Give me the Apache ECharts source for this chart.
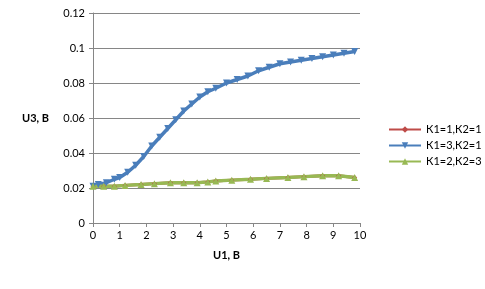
<!DOCTYPE html>
<html><head><meta charset="utf-8">
<script src="https://cdn.jsdelivr.net/npm/echarts@6/dist/echarts.min.js"></script>
<style>html,body{margin:0;padding:0;background:#fff}#c{width:485px;height:289px}</style>
</head><body><div id="c"></div>
<script>
const seriesNames = ['К1=1,К2=1', 'К1=3,К2=1', 'К1=2,К2=3'];
const xTicks = [0,1,2,3,4,5,6,7,8,9,10];
const yTicks = [0,0.02,0.04,0.06,0.08,0.1,0.12];
const u1Blue = [0,0.2,0.5,0.8,1.0,1.3,1.6,1.9,2.2,2.5,2.8,3.1,3.4,3.7,4.0,4.3,4.6,5.0,5.4,5.8,6.2,6.6,7.0,7.4,7.8,8.2,8.6,9.0,9.4,9.8];
const u3Blue = [0.021,0.022,0.023,0.025,0.026,0.029,0.033,0.038,0.044,0.049,0.054,0.059,0.064,0.068,0.072,0.075,0.077,0.080,0.082,0.084,0.087,0.089,0.091,0.092,0.093,0.094,0.095,0.096,0.097,0.098];
const u1Green = [0,0.4,0.8,1.2,1.8,2.3,2.9,3.4,3.9,4.3,4.6,5.2,5.9,6.5,7.3,7.9,8.6,9.2,9.8];
const u3Green = [0.021,0.021,0.021,0.0215,0.022,0.0225,0.023,0.023,0.023,0.0235,0.024,0.0245,0.025,0.0255,0.026,0.0265,0.027,0.027,0.026];
const u3Red = u3Green;

const pair = (xs, ys) => xs.map((x,i)=>[x, ys[i]]);
const chart = echarts.init(document.getElementById('c'));
const font = 'Lato, "Liberation Sans", sans-serif';
chart.setOption({
  animation:false,
  textStyle:{fontFamily:font},
  grid:{left:93,right:125,top:13,bottom:66},
  legend:{
    orient:'vertical', left:383, top:119, itemWidth:32, itemHeight:8, itemGap:5,
    textStyle:{fontSize:11,color:'#000',fontFamily:font},
    data:seriesNames
  },
  xAxis:{
    type:'value', min:0, max:10, interval:1,
    name:'U1, В', nameLocation:'middle', nameGap:27,
    nameTextStyle:{fontWeight:'bold',fontSize:11,color:'#000'},
    axisLine:{lineStyle:{color:'#868686'}},
    axisTick:{show:true,length:4,lineStyle:{color:'#868686'}},
    axisLabel:{color:'#000',fontSize:11,margin:7},
    splitLine:{show:false}
  },
  yAxis:{
    type:'value', min:0, max:0.12, interval:0.02,
    name:'U3, В', nameLocation:'middle', nameGap:44, nameRotate:0,
    nameTextStyle:{fontWeight:'bold',fontSize:11,color:'#000'},
    axisLine:{show:true,lineStyle:{color:'#868686'}},
    axisTick:{show:true,length:4,lineStyle:{color:'#868686'}},
    axisLabel:{color:'#000',fontSize:11,margin:8,formatter:v=>String(Math.round(v*100)/100)},
    splitLine:{lineStyle:{color:'#868686'}}
  },
  series:[
    {name:seriesNames[0],type:'line',data:pair(u1Green,u3Red),symbol:'diamond',symbolSize:5,
     itemStyle:{color:'#BE4B48'},lineStyle:{width:3,color:'#BE4B48'}},
    {name:seriesNames[1],type:'line',data:pair(u1Blue,u3Blue),symbol:'triangle',symbolRotate:180,symbolSize:7,
     itemStyle:{color:'#4A7EBB'},lineStyle:{width:3.5,color:'#4A7EBB'}},
    {name:seriesNames[2],type:'line',data:pair(u1Green,u3Green),symbol:'triangle',symbolSize:7,
     itemStyle:{color:'#98B954'},lineStyle:{width:3.5,color:'#98B954'}}
  ]
});
</script></body></html>
